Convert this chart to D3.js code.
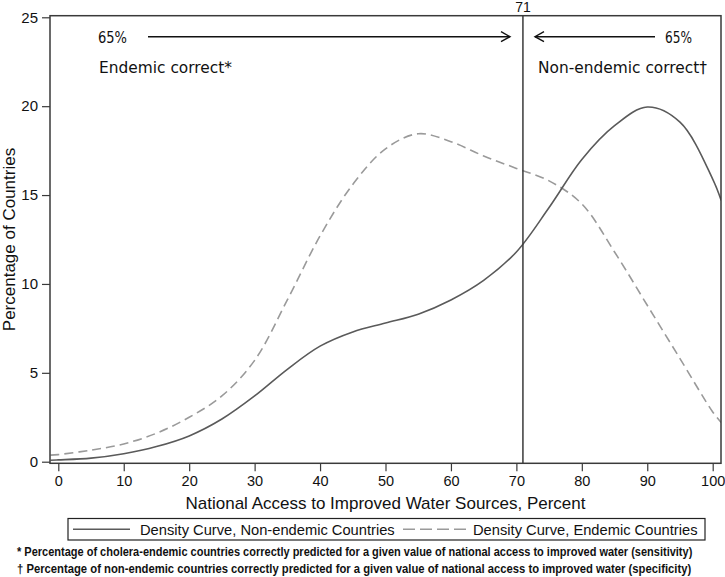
<!DOCTYPE html>
<html><head><meta charset="utf-8">
<script src="https://cdn.jsdelivr.net/npm/d3@7"></script>
<style>body{margin:0;background:#fff}svg{display:block}</style>
</head><body>
<script>
const xValues = [-1.2,0,5,10,15,20,25,30,35,40,45,50,55,60,65,70,75,80,85,90,95,100,101.3];
const nonEndemic = [0.08,0.1,0.2,0.45,0.85,1.45,2.4,3.7,5.2,6.5,7.3,7.8,8.3,9.1,10.2,11.8,14.3,17.0,18.9,19.95,19.1,15.9,14.7];
const endemic = [0.37,0.4,0.65,1.0,1.6,2.5,3.7,5.7,9.1,12.7,15.6,17.6,18.45,18.0,17.2,16.5,15.8,14.5,11.8,8.8,5.8,2.8,2.2];
const xTicks = [0,10,20,30,40,50,60,70,80,90,100];
const yTicks = [0,5,10,15,20,25];
const cutoff = 71;
const legendLabels = ["Density Curve, Non-endemic Countries","Density Curve, Endemic Countries"];
const footnotes = ["* Percentage of cholera-endemic countries correctly predicted for a given value of national access to improved water (sensitivity)",
                   "\u2020 Percentage of non-endemic countries correctly predicted for a given value of national access to improved water (specificity)"];

const W=725,H=577;
const svg=d3.select("body").append("svg").attr("width",W).attr("height",H);
const x=d3.scaleLinear().domain([0,100]).range([58.3,712.7]);
const y=d3.scaleLinear().domain([0,25]).range([461.7,17.3]);
const fL=50,fR=721,fT=15.7,fB=463.3;
const frameColor="#3a3a3a";

svg.append("defs").append("clipPath").attr("id","clip").append("rect")
  .attr("x",fL).attr("y",fT).attr("width",fR-fL).attr("height",fB-fT);

// curves
const line=(vals)=>d3.line().x((d,i)=>x(xValues[i])).y(d=>y(d)).curve(d3.curveCatmullRom)(vals);
const g=svg.append("g").attr("clip-path","url(#clip)");
g.append("path").attr("d",line(endemic)).attr("fill","none").attr("stroke","#9a9a9a").attr("stroke-width",1.6).attr("stroke-dasharray","9,5");
g.append("path").attr("d",line(nonEndemic)).attr("fill","none").attr("stroke","#5a5a5a").attr("stroke-width",1.6);

// cutoff line
svg.append("line").attr("x1",x(cutoff)).attr("x2",x(cutoff)).attr("y1",fT).attr("y2",fB).attr("stroke",frameColor).attr("stroke-width",1.5);
svg.append("text").attr("x",x(cutoff)).attr("y",12).attr("text-anchor","middle").attr("font-family","Liberation Sans, Arial, sans-serif").attr("font-size",14).attr("fill","#111").text(cutoff);

// frame
svg.append("rect").attr("x",fL).attr("y",fT).attr("width",fR-fL).attr("height",fB-fT).attr("fill","none").attr("stroke",frameColor).attr("stroke-width",1.5);

// axes
const xAxis=d3.axisBottom(x).tickValues(xTicks).tickSize(8).tickPadding(4);
const gx=svg.append("g").attr("transform",`translate(0,${fB})`).call(xAxis);
gx.select(".domain").remove();
gx.selectAll("line").attr("stroke",frameColor).attr("stroke-width",1.2);
gx.selectAll("text").attr("font-family","Liberation Sans, Arial, sans-serif").attr("font-size",14.5).attr("fill","#111");

const yAxis=d3.axisLeft(y).tickValues(yTicks).tickSize(8).tickPadding(4);
const gy=svg.append("g").attr("transform",`translate(${fL},0)`).call(yAxis);
gy.select(".domain").remove();
gy.selectAll("line").attr("stroke",frameColor).attr("stroke-width",1.2);
gy.selectAll("text").attr("font-family","Liberation Sans, Arial, sans-serif").attr("font-size",15).attr("fill","#111");

// axis titles
svg.append("text").attr("x",(fL+fR)/2).attr("y",509).attr("text-anchor","middle").attr("font-family","Liberation Sans, Arial, sans-serif").attr("font-size",17).attr("fill","#111").text("National Access to Improved Water Sources, Percent");
svg.append("text").attr("transform",`translate(15,${(fT+fB)/2}) rotate(-90)`).attr("text-anchor","middle").attr("font-family","Liberation Sans, Arial, sans-serif").attr("font-size",17).attr("fill","#111").text("Percentage of Countries");

// annotations
const af="DejaVu Sans, Verdana, sans-serif";
const ann=(t,xx,yy,len)=>svg.append("text").attr("x",xx).attr("y",yy).attr("font-family",af).attr("font-size",15.5).attr("fill","#111").attr("textLength",len).attr("lengthAdjust","spacingAndGlyphs").text(t);
ann("65%",98,42.5,29);
ann("Endemic  correct*",99,72.5,133);
ann("65%",665,42.5,27);
ann("Non-endemic  correct\u2020",538,72.5,169);
const ay=36.7;
svg.append("line").attr("x1",148).attr("x2",510).attr("y1",ay).attr("y2",ay).attr("stroke","#111").attr("stroke-width",1.4);
svg.append("path").attr("d",`M${501},${ay-5}L${510},${ay}L${501},${ay+5}`).attr("fill","none").attr("stroke","#111").attr("stroke-width",1.4);
svg.append("line").attr("x1",535).attr("x2",655).attr("y1",ay).attr("y2",ay).attr("stroke","#111").attr("stroke-width",1.4);
svg.append("path").attr("d",`M${544},${ay-5}L${535},${ay}L${544},${ay+5}`).attr("fill","none").attr("stroke","#111").attr("stroke-width",1.4);

// legend
const lT=518.5,lB=540,lL=68,lR=705;
svg.append("rect").attr("x",lL).attr("y",lT).attr("width",lR-lL).attr("height",lB-lT).attr("fill","none").attr("stroke","#222").attr("stroke-width",1.2);
const ly=(lT+lB)/2;
svg.append("line").attr("x1",73).attr("x2",130).attr("y1",ly).attr("y2",ly).attr("stroke","#5a5a5a").attr("stroke-width",1.5);
svg.append("line").attr("x1",403).attr("x2",468).attr("y1",ly).attr("y2",ly).attr("stroke","#9a9a9a").attr("stroke-width",1.5).attr("stroke-dasharray","12,5");
svg.append("text").attr("x",140).attr("y",ly+5.3).attr("font-family","Liberation Sans, Arial, sans-serif").attr("font-size",14.7).attr("fill","#111").text(legendLabels[0]);
svg.append("text").attr("x",473).attr("y",ly+5.3).attr("font-family","Liberation Sans, Arial, sans-serif").attr("font-size",14.7).attr("fill","#111").text(legendLabels[1]);

// footnotes (horizontally condensed to the reference width)
footnotes.forEach((t,i)=>{
  const target = i===0?676:675;
  const tx=svg.append("text").attr("x",0).attr("y",0).attr("font-family","Liberation Sans, Arial, sans-serif").attr("font-weight","bold").attr("font-size",12.5).attr("fill","#111").text(t);
  const len=tx.node().getComputedTextLength();
  tx.attr("transform",`translate(17,${556+i*17}) scale(${target/len},1)`);
});
</script>
</body></html>
